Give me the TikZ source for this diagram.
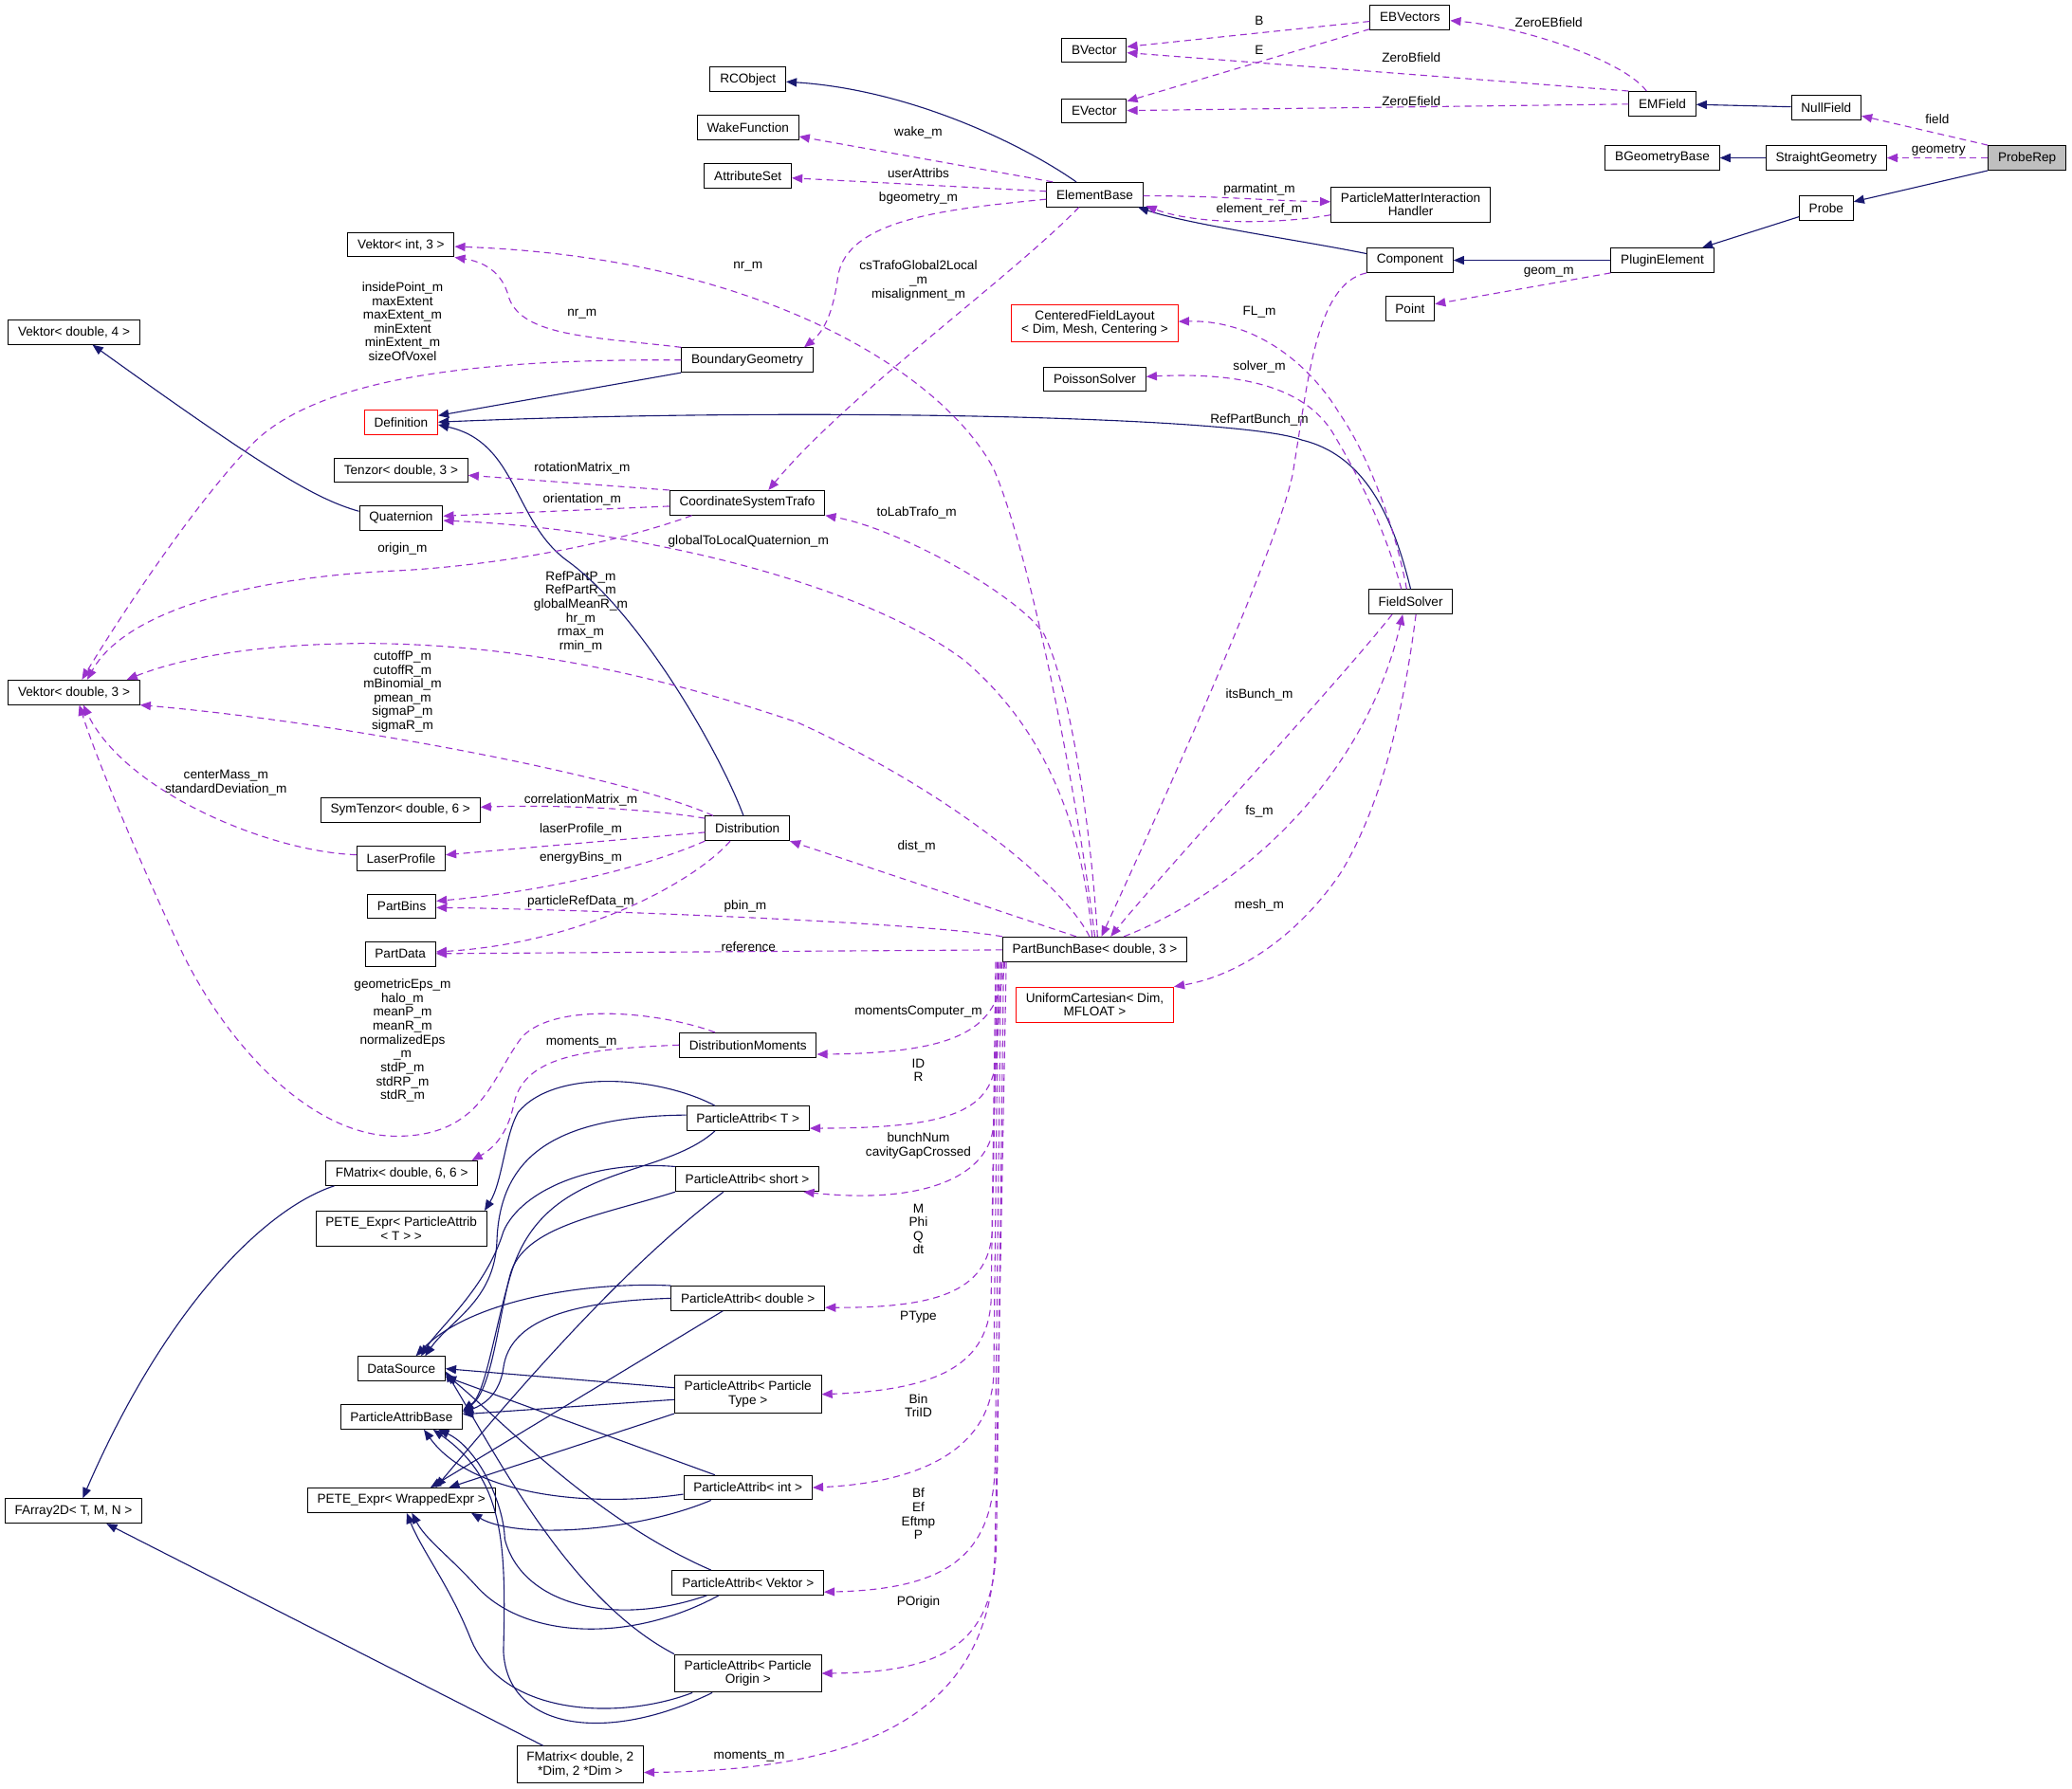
\documentclass[tikz,border=0pt]{standalone}
\usepackage{fontspec}
\setmainfont{Liberation Sans}
\usetikzlibrary{arrows.meta}
\definecolor{navyblue}{HTML}{191970}
\definecolor{orchid}{HTML}{9A32CD}
\tikzset{cls/.style={draw=black,line width=.7pt,fill=white,inner xsep=7.4pt,inner ysep=4.5pt,minimum height=18.5pt,align=center},
 redcls/.style={cls,draw=red},rootcls/.style={cls,fill=black!25},
 inh/.style={draw=navyblue,line width=.8pt,-{Triangle[length=8pt,width=6.5pt]}},
 dep/.style={draw=orchid,line width=.8pt,dash pattern=on 5pt off 3.5pt,-{Triangle[length=8pt,width=6.5pt]}},
 lbl/.style={align=center,inner sep=0pt}}
\begin{document}
\begin{tikzpicture}[x=1pt,y=-1pt,font=\fontsize{9.75}{10.5}\selectfont]
\useasboundingbox (0,0) rectangle (1568,1354);
% classes
\node[cls] (EBVectors) at (1067,13) {EBVectors};
\node[cls] (BVector) at (828,38) {BVector};
\node[cls] (EVector) at (828,84) {EVector};
\node[cls] (EMField) at (1258,78.5) {EMField};
\node[cls] (NullField) at (1382,81.5) {NullField};
\node[rootcls] (ProbeRep) at (1534,119.5) {ProbeRep};
\node[cls] (BGeomBase) at (1258,119.5) {BGeometryBase};
\node[cls] (StraightGeom) at (1382,119.5) {StraightGeometry};
\node[cls] (Probe) at (1382,157.5) {Probe};
\node[cls] (PluginElem) at (1258,197) {PluginElement};
\node[cls] (Component) at (1067,197) {Component};
\node[cls] (Point) at (1067,233.5) {Point};
\node[cls] (ElementBase) at (828.5,147.3) {ElementBase};
\node[cls] (PMIHandler) at (1067.5,154.7) {ParticleMatterInteraction\\Handler};
\node[cls] (RCObject) at (566,60) {RCObject};
\node[cls] (WakeFunc) at (566,96.4) {WakeFunction};
\node[cls] (AttribSet) at (566,133) {AttributeSet};
\node[cls] (VekInt3) at (303.5,185.2) {Vektor< int, 3 >};
\node[cls] (VekDbl4) at (56,251.4) {Vektor< double, 4 >};
\node[cls] (BoundGeom) at (565.5,272.5) {BoundaryGeometry};
\node[redcls] (Definition) at (303.5,319.5) {Definition};
\node[redcls] (CFLayout) at (828.5,244.7) {CenteredFieldLayout\\< Dim, Mesh, Centering >};
\node[cls] (PoissonSolver) at (828.5,287) {PoissonSolver};
\node[cls] (Tenzor) at (303.5,356) {Tenzor< double, 3 >};
\node[cls] (Quaternion) at (303.5,392) {Quaternion};
\node[cls] (CSTrafo) at (565.5,380.6) {CoordinateSystemTrafo};
\node[cls] (FieldSolver) at (1067.5,455.5) {FieldSolver};
\node[cls] (VekDbl3) at (56,524) {Vektor< double, 3 >};
\node[cls] (SymTenzor) at (303,613) {SymTenzor< double, 6 >};
\node[cls] (Distribution) at (565.6,627) {Distribution};
\node[cls] (LaserProfile) at (303.5,650) {LaserProfile};
\node[cls] (PartBins) at (304,686) {PartBins};
\node[cls] (PartData) at (303,722) {PartData};
\node[cls] (PBBase) at (828.5,718.5) {PartBunchBase< double, 3 >};
\node[redcls] (UCart) at (828.5,760.5) {UniformCartesian< Dim,\\MFLOAT >};
\node[cls] (DistMoments) at (566,791) {DistributionMoments};
\node[cls] (PAT) at (566,846.5) {ParticleAttrib< T >};
\node[cls] (FMat66) at (304,888) {FMatrix< double, 6, 6 >};
\node[cls] (PAshort) at (565.5,892.6) {ParticleAttrib< short >};
\node[cls] (PETEpat) at (303.7,930) {PETE\_Expr< ParticleAttrib\\< T > >};
\node[cls] (PAdouble) at (566,982.7) {ParticleAttrib< double >};
\node[cls] (DataSource) at (303.7,1036) {DataSource};
\node[cls] (PAptype) at (566,1055.4) {ParticleAttrib< Particle\\Type >};
\node[cls] (PABase) at (303.8,1072.5) {ParticleAttribBase};
\node[cls] (PAint) at (566,1126) {ParticleAttrib< int >};
\node[cls] (PETEwe) at (303.7,1135.6) {PETE\_Expr< WrappedExpr >};
\node[cls] (FArray) at (55.6,1143.7) {FArray2D< T, M, N >};
\node[cls] (PAvektor) at (566,1198) {ParticleAttrib< Vektor >};
\node[cls] (PAporigin) at (566,1266.6) {ParticleAttrib< Particle\\Origin >};
\node[cls] (FMat2D) at (439,1335.6) {FMatrix< double, 2\\*Dim, 2 *Dim >};
% member labels
\node[lbl] (lB) at (953,16) {B};\node[lbl] (lE) at (953,38) {E};
\node[lbl] (lZEB) at (1172,17) {ZeroEBfield};
\node[lbl] (lZB) at (1068,43.5) {ZeroBfield};\node[lbl] (lZE) at (1068,76.5) {ZeroEfield};
\node[lbl] (lfield) at (1466,90) {field};\node[lbl] (lgeometry) at (1467,114) {geometry};
\node[lbl] (lparmatint) at (953,143.5) {parmatint\_m};\node[lbl] (lelemref) at (953,158.4) {element\_ref\_m};
\node[lbl] (lgeom) at (1172,206) {geom\_m};
\node[lbl] (lFL) at (953,236) {FL\_m};\node[lbl] (lsolver) at (953,278) {solver\_m};
\node[lbl] (lRefPB) at (953,318) {RefPartBunch\_m};
\node[lbl] (lwake) at (695,100.5) {wake\_m};\node[lbl] (luser) at (695,131) {userAttribs};
\node[lbl] (lbgeom) at (695,150) {bgeometry\_m};
\node[lbl] (lnrA) at (566,201.6) {nr\_m};\node[lbl] (lnrB) at (440.5,237.5) {nr\_m};
\node[lbl] (lcsTrafo) at (695,212.4) {csTrafoGlobal2Local\\\_m\\misalignment\_m};
\node[lbl] (lextent) at (304.6,243.4) {insidePoint\_m\\maxExtent\\maxExtent\_m\\minExtent\\minExtent\_m\\sizeOfVoxel};
\node[lbl] (lrotation) at (440.5,354.7) {rotationMatrix\_m};\node[lbl] (lorient) at (440.5,378) {orientation\_m};
\node[lbl] (lorigin) at (304.6,415.7) {origin\_m};
\node[lbl] (lglobalQ) at (566.4,409.5) {globalToLocalQuaternion\_m};
\node[lbl] (ltoLab) at (693.7,388) {toLabTrafo\_m};
\node[lbl] (lrefpart) at (439.5,463) {RefPartP\_m\\RefPartR\_m\\globalMeanR\_m\\hr\_m\\rmax\_m\\rmin\_m};
\node[lbl] (lcutoff) at (304.6,523.5) {cutoffP\_m\\cutoffR\_m\\mBinomial\_m\\pmean\_m\\sigmaP\_m\\sigmaR\_m};
\node[lbl] (lcenter) at (171,592.6) {centerMass\_m\\standardDeviation\_m};
\node[lbl] (lcorr) at (439.5,605.7) {correlationMatrix\_m};\node[lbl] (llaser) at (439.5,627.9) {laserProfile\_m};
\node[lbl] (lenergy) at (439.5,649.5) {energyBins\_m};\node[lbl] (lrefdata) at (439.5,682.3) {particleRefData\_m};
\node[lbl] (ldist) at (693.7,641.1) {dist\_m};\node[lbl] (lpbin) at (564,686) {pbin\_m};
\node[lbl] (lreference) at (566.4,717) {reference};
\node[lbl] (litsBunch) at (953,526) {itsBunch\_m};\node[lbl] (lfs) at (953,614) {fs\_m};
\node[lbl] (lmesh) at (953,685.3) {mesh\_m};
\node[lbl] (leps) at (304.6,787.7) {geometricEps\_m\\halo\_m\\meanP\_m\\meanR\_m\\normalizedEps\\\_m\\stdP\_m\\stdRP\_m\\stdR\_m};
\node[lbl] (lmomA) at (440,789) {moments\_m};\node[lbl] (lmomComp) at (695,766) {momentsComputer\_m};
\node[lbl] (lIDR) at (695,810) {ID\\R};\node[lbl] (lbunch) at (695,867.4) {bunchNum\\cavityGapCrossed};
\node[lbl] (lMPhi) at (695,930.3) {M\\Phi\\Q\\dt};\node[lbl] (lPType) at (695,997) {PType};
\node[lbl] (lBin) at (695,1064) {Bin\\TriID};\node[lbl] (lBf) at (695,1146) {Bf\\Ef\\Eftmp\\P};
\node[lbl] (lPOrigin) at (695,1213) {POrigin};\node[lbl] (lmomB) at (567,1329) {moments\_m};
% fields and probe
\draw[dep] (EBVectors) -- (BVector);\draw[dep] (EBVectors) -- (EVector);
\draw[dep] ([xshift=-12pt]EMField.north) .. controls (1228,45) and (1150,20) .. (EBVectors);
\draw[dep] (EMField.north west) -- (BVector);\draw[dep] (EMField) -- (EVector);
\draw[inh] (NullField) -- (EMField);
\draw[dep] (ProbeRep.north west) -- (NullField);\draw[dep] (ProbeRep) -- (StraightGeom);
\draw[inh] (StraightGeom) -- (BGeomBase);
\draw[inh] (ProbeRep.south west) -- (Probe);\draw[inh] (Probe) -- (PluginElem);
\draw[inh] (PluginElem) -- (Component);\draw[dep] (PluginElem.south west) -- (Point);
% element base
\draw[inh] ([yshift=5pt]Component.west) .. controls (985,182) and (900,170) .. ([xshift=-4pt]ElementBase.south east);
\draw[dep] ([yshift=-1pt]ElementBase.east) .. controls (920,148) and (960,152) .. ([yshift=2pt]PMIHandler.west);
\draw[dep] ([yshift=-8pt]PMIHandler.west) .. controls (965,170) and (905,170) .. ([xshift=2pt,yshift=1pt]ElementBase.south east);
\draw[inh] ([xshift=-14pt]ElementBase.north) .. controls (775,110) and (690,68) .. (RCObject);
\draw[dep] ([xshift=5pt]ElementBase.north west) -- (WakeFunc);
\draw[dep] ([yshift=2.5pt]ElementBase.west) -- (AttribSet);
\draw[dep] ([yshift=-3.5pt]ElementBase.west) .. controls (720,158) and (640,165) .. (634,210) .. controls (630,240) and (622,252) .. ([xshift=43pt]BoundGeom.north);
\draw[dep] ([xshift=-12pt]ElementBase.south) .. controls (765,210) and (640,300) .. ([xshift=16pt]CSTrafo.north);
\draw[dep] (Component.south west) .. controls (995,215) and (990,290) .. (978,360) .. controls (965,420) and (870,630) .. ([xshift=5pt]PBBase.north);
% definition
\draw[inh] (FieldSolver.north) .. controls (1055,395) and (1035,345) .. (985,333) .. controls (940,315) and (600,308) .. (Definition.east);
\draw[inh] (BoundGeom.south west) -- (Definition);
\draw[inh] ([xshift=-3pt]Distribution.north) .. controls (545,570) and (485,465) .. (430,425) .. controls (388,395) and (392,335) .. ([yshift=-2pt]Definition.east);
\draw[inh] ([yshift=5pt]Quaternion.west) .. controls (240,378) and (205,358) .. ([xshift=14pt]VekDbl4.south);
\draw[dep] (CSTrafo.north west) -- (Tenzor);\draw[dep] (CSTrafo) -- (Quaternion);
\draw[dep] ([xshift=-42pt]CSTrafo.south) .. controls (470,410) and (380,428) .. (300,432) .. controls (190,437) and (95,462) .. ([xshift=10pt]VekDbl3.north);
\draw[dep] (BoundGeom.west) .. controls (400,272) and (250,278) .. (192,335) .. controls (150,378) and (95,460) .. ([xshift=6pt]VekDbl3.north);
\draw[dep] (BoundGeom.north west) .. controls (450,255) and (395,255) .. (385,225) .. controls (380,205) and (365,198) .. (VekInt3.south east);
% part bunch base, upwards
\draw[dep] (PBBase.north) .. controls (815,600) and (780,420) .. (752,355) .. controls (715,285) and (580,195) .. (VekInt3);
\draw[dep] ([xshift=2pt]PBBase.north) .. controls (826,630) and (810,520) .. (790,480) .. controls (770,450) and (680,400) .. (CSTrafo.south east);
\draw[dep] ([xshift=-2pt]PBBase.north) .. controls (820,640) and (800,560) .. (730,500) .. controls (650,440) and (480,400) .. ([yshift=-2pt]Quaternion.east);
\draw[dep] ([xshift=-4pt]PBBase.north) .. controls (805,670) and (720,600) .. (604,547) .. controls (480,505) and (380,488) .. (280,487) .. controls (200,487) and (140,497) .. ([xshift=40pt]VekDbl3.north);
\draw[dep] ([xshift=-14pt]PBBase.north) -- (Distribution.south east);
\draw[dep] (PBBase.north west) .. controls (700,698) and (430,688) .. ([yshift=-1pt]PartBins.east);
\draw[dep] (PBBase) -- (PartData);
% field solver
\draw[dep] ([xshift=-14pt]FieldSolver.south) .. controls (1010,520) and (880,660) .. ([xshift=12pt]PBBase.north);
\draw[dep] ([xshift=22pt]PBBase.north) .. controls (925,680) and (1030,600) .. ([xshift=-6pt]FieldSolver.south);
\draw[dep] ([xshift=4pt]FieldSolver.south) .. controls (1062,540) and (1045,610) .. (1015,660) .. controls (985,705) and (940,738) .. (UCart.north east);
\draw[dep] ([xshift=-3pt]FieldSolver.north) .. controls (1056,400) and (1036,345) .. (1013,312) .. controls (995,282) and (955,242) .. (CFLayout);
\draw[dep] ([xshift=-7pt]FieldSolver.north) .. controls (1048,400) and (1028,360) .. (1010,330) .. controls (992,298) and (950,281) .. (PoissonSolver);
% distribution
\draw[dep] ([xshift=-26pt]Distribution.north) .. controls (480,590) and (270,548) .. (VekDbl3.south east);
\draw[dep] ([yshift=-2pt]Distribution.north west) .. controls (490,612) and (420,609) .. (SymTenzor);
\draw[dep] ([yshift=-3pt]Distribution.west) -- (LaserProfile);
\draw[dep] (Distribution.south west) .. controls (480,660) and (400,676) .. ([yshift=4pt]PartBins.east);
\draw[dep] ([xshift=-13pt]Distribution.south) .. controls (525,668) and (440,714) .. ([yshift=1.5pt]PartData.east);
\draw[dep] ([yshift=3pt]LaserProfile.west) .. controls (205,645) and (95,600) .. ([xshift=7pt]VekDbl3.south);
\draw[dep] ([xshift=-25pt]DistMoments.north) .. controls (500,766) and (420,758) .. (395,785) .. controls (372,815) and (365,860) .. (300,860) .. controls (235,860) and (170,790) .. (135,715) .. controls (105,650) and (75,580) .. ([xshift=4pt]VekDbl3.south);
\draw[dep] (DistMoments.west) .. controls (440,794) and (397,800) .. (389,835) .. controls (384,860) and (372,870) .. ([xshift=53pt]FMat66.north);
\draw[inh] ([xshift=-51pt]FMat66.south) .. controls (200,915) and (125,990) .. ([xshift=7pt]FArray.north);
\draw[inh] ([xshift=-28pt]FMat2D.north) -- ([xshift=25pt]FArray.south);
% particle attributes of the bunch
\draw[dep] ([xshift=-68pt]PBBase.south) .. controls (756,775) and (735,797) .. ([yshift=-7pt]DistMoments.east);
\draw[dep] ([xshift=-70pt]PBBase.south) -- (754,800) .. controls (751,840) and (722,854) .. ([yshift=-7.5pt]PAT.east);
\draw[dep] ([xshift=-72pt]PBBase.south) -- (752,850) .. controls (750,890) and (700,912) .. ([xshift=-12pt]PAshort.south east);
\draw[dep] ([xshift=-74pt]PBBase.south) -- (751,930) .. controls (749,975) and (715,990) .. ([yshift=-7pt]PAdouble.east);
\draw[dep] ([xshift=-75pt]PBBase.south) -- (750,985) .. controls (747,1030) and (715,1052) .. (PAptype.east);
\draw[dep] ([xshift=-73pt]PBBase.south) -- (752,1040) .. controls (750,1095) and (700,1122) .. (PAint.east);
\draw[dep] ([xshift=-71pt]PBBase.south) -- (753,1110) .. controls (751,1175) and (720,1203) .. ([yshift=-7pt]PAvektor.east);
\draw[dep] ([xshift=-69pt]PBBase.south) -- (754,1170) .. controls (752,1240) and (720,1266) .. (PAporigin.east);
\draw[dep] ([xshift=-67pt]PBBase.south) -- (753,1170) .. controls (752,1300) and (650,1340) .. ([yshift=-6pt]FMat2D.east);
% base classes of the attributes
\draw[inh] ([xshift=-25pt]PAT.north) .. controls (500,815) and (420,808) .. (392,842) .. controls (382,860) and (380,895) .. ([xshift=63pt]PETEpat.north);
\draw[inh] ([yshift=2.5pt]PAT.west) .. controls (420,845) and (378,875) .. (376,940) .. controls (374,985) and (340,1000) .. ([xshift=18pt]DataSource.north);
\draw[inh] ([xshift=-25pt]PAT.south) .. controls (500,893) and (415,880) .. (388,960) .. controls (375,1000) and (368,1055) .. ([yshift=5pt]PABase.east);
\draw[inh] (PAshort.north west) .. controls (450,878) and (395,900) .. (381,932) .. controls (368,975) and (332,1005) .. ([xshift=15pt]DataSource.north);
\draw[inh] (PAshort.south west) .. controls (455,920) and (396,928) .. (386,965) .. controls (376,1005) and (372,1052) .. ([yshift=4pt]PABase.east);
\draw[inh] ([xshift=-18pt]PAshort.south) .. controls (470,960) and (385,1060) .. ([xshift=26pt]PETEwe.north);
\draw[inh] (PAdouble.north west) .. controls (440,970) and (355,985) .. ([xshift=11pt]DataSource.north);
\draw[inh] (PAdouble.west) .. controls (430,985) and (386,1000) .. (381,1035) .. controls (378,1056) and (366,1063) .. ([yshift=3pt]PABase.east);
\draw[inh] ([xshift=-19pt]PAdouble.south) -- ([xshift=22pt]PETEwe.north);
\draw[inh] ([yshift=5pt]PAptype.west) -- (DataSource.east);
\draw[inh] ([yshift=-4pt]PAptype.west) -- ([yshift=2pt]PABase.east);
\draw[inh] (PAptype.south west) -- ([xshift=36pt]PETEwe.north);
\draw[inh] ([xshift=-25pt]PAint.north) -- ([yshift=-6pt]DataSource.east);
\draw[inh] ([yshift=-5pt]PAint.west) .. controls (440,1142) and (355,1130) .. ([xshift=17pt]PABase.south);
\draw[inh] ([xshift=-28pt]PAint.south) .. controls (480,1160) and (390,1165) .. ([xshift=53pt]PETEwe.south);
\draw[inh] ([xshift=-28pt]PAvektor.north) .. controls (450,1150) and (385,1080) .. ([yshift=-4pt]DataSource.east);
\draw[inh] ([xshift=-22pt]PAvektor.south) .. controls (475,1245) and (395,1240) .. (360,1200) .. controls (340,1178) and (322,1165) .. ([xshift=8pt]PETEwe.south);
\draw[inh] ([xshift=-31pt]PAvektor.south) .. controls (465,1232) and (395,1215) .. (382,1165) .. controls (381,1135) and (360,1095) .. ([xshift=28pt]PABase.south);
\draw[inh] (PAporigin.north west) .. controls (430,1210) and (375,1100) .. ([yshift=-2pt]DataSource.east);
\draw[inh] ([xshift=-42pt]PAporigin.south) .. controls (470,1302) and (380,1300) .. (356,1240) .. controls (340,1200) and (320,1175) .. ([xshift=4pt]PETEwe.south);
\draw[inh] ([xshift=-27pt]PAporigin.south) .. controls (460,1320) and (384,1310) .. (381,1250) .. controls (383,1170) and (382,1120) .. ([xshift=24pt]PABase.south);
\end{tikzpicture}
\end{document}
